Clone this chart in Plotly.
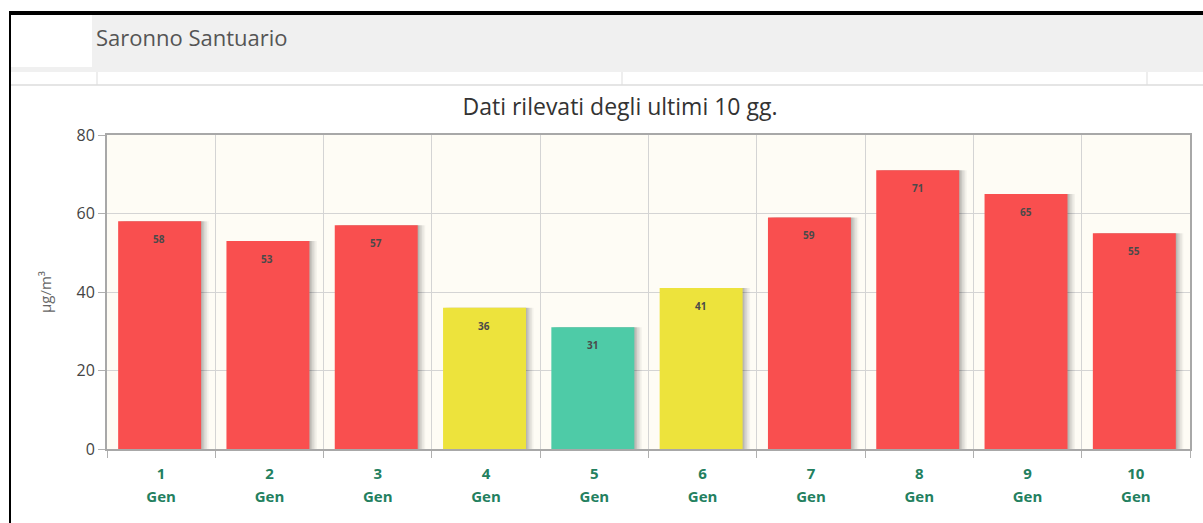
import plotly.graph_objects as go

# ---- data ----
days = ["1", "2", "3", "4", "5", "6", "7", "8", "9", "10"]
month_labels = ["Gen"] * 10
values = [58, 53, 57, 36, 31, 41, 59, 71, 65, 55]
bar_colors = ["#f94f4f", "#f94f4f", "#f94f4f", "#ede33c", "#4ecba7",
              "#ede33c", "#f94f4f", "#f94f4f", "#f94f4f", "#f94f4f"]
y_ticks = [0, 20, 40, 60, 80]

station = "Saronno Santuario"
chart_title = "Dati rilevati degli ultimi 10 gg."
y_title = "µg/m³"

FONT = "Open Sans"
W, H = 1203, 523
L, R, T, B = 107, 13, 135, 74

idx = list(range(len(days)))

fig = go.Figure()

# soft shadows (drawn from the same values)
for off, alpha in [(0.07, 0.04), (0.055, 0.05), (0.04, 0.06), (0.025, 0.08), (0.012, 0.08)]:
    fig.add_trace(go.Bar(
        x=days, y=values, width=0.766, offset=-0.397 + off,
        marker=dict(color=f"rgba(0,0,0,{alpha})", line=dict(width=0)),
        hoverinfo="skip", showlegend=False,
    ))

fig.add_trace(go.Bar(
    x=days, y=values, width=0.766, offset=-0.397,
    marker=dict(color=bar_colors, line=dict(width=0)),
    showlegend=False,
))

# invisible trace carrying the second (month) label axis
fig.add_trace(go.Scatter(
    x=idx, y=values, xaxis="x2", mode="markers",
    marker=dict(opacity=0), hoverinfo="skip", showlegend=False,
))

# value labels inside bars near the top (category index positions)
for i, v in zip(idx, values):
    fig.add_annotation(x=i, y=v, xref="x", yref="y", text=str(v), showarrow=False,
                       xshift=-2, yshift=-18, yanchor="middle",
                       font=dict(family=FONT, size=10, color="#4a4a4a", weight="bold"))

def px_x(x):
    return (x - L) / (W - L - R)

def px_y(y):
    return 1 + (T - y) / (H - T - B)

# header decoration
fig.add_shape(type="rect", xref="paper", yref="paper",
              x0=px_x(10), x1=px_x(W + 5), y0=px_y(72), y1=px_y(15),
              fillcolor="#f0f0f0", line=dict(width=0), layer="below")
fig.add_shape(type="rect", xref="paper", yref="paper",
              x0=px_x(10), x1=px_x(92), y0=px_y(67), y1=px_y(15),
              fillcolor="#ffffff", line=dict(width=0), layer="below")
for xx in [97, 622, 1147]:
    fig.add_shape(type="line", xref="paper", yref="paper",
                  x0=px_x(xx), x1=px_x(xx), y0=px_y(72), y1=px_y(85),
                  line=dict(color="#dddddd", width=1), layer="below")
fig.add_shape(type="line", xref="paper", yref="paper",
              x0=px_x(10), x1=px_x(W + 5), y0=px_y(85), y1=px_y(85),
              line=dict(color="#dddddd", width=1.5), layer="below")
# black frame (top and left)
fig.add_shape(type="rect", xref="paper", yref="paper",
              x0=px_x(9), x1=px_x(W + 5), y0=px_y(15), y1=px_y(11),
              fillcolor="#000000", line=dict(width=0), layer="below")
fig.add_shape(type="rect", xref="paper", yref="paper",
              x0=px_x(9), x1=px_x(11), y0=px_y(H + 5), y1=px_y(11),
              fillcolor="#000000", line=dict(width=0), layer="below")

fig.add_annotation(
    text=station, xref="paper", yref="paper",
    x=px_x(94), y=px_y(37), xanchor="left", yanchor="middle",
    showarrow=False, font=dict(family=FONT, size=22, color="#555555"),
)

fig.update_layout(
    width=W, height=H,
    margin=dict(l=L, r=R, t=T, b=B),
    paper_bgcolor="#ffffff",
    plot_bgcolor="#fefcf5",
    barmode="overlay",
    font=dict(family=FONT, color="#555555"),
    title=dict(text=chart_title, xref="container", yref="container",
               x=620 / W, y=1 - 107 / H, xanchor="center", yanchor="middle",
               font=dict(family=FONT, size=23, color="#333333")),
    xaxis=dict(
        type="category", tickson="boundaries",
        range=[-0.5, len(days) - 0.5],
        showgrid=True, gridcolor="#d4d4d4", gridwidth=1,
        ticks="outside", ticklen=7, tickcolor="#b0b0b0", tickwidth=1,
        showline=True, linecolor="#a8a8a8", linewidth=2, mirror=True,
        tickfont=dict(family=FONT, size=15, color="#23805f", weight="bold"),
        ticklabelstandoff=10,
        zeroline=False, fixedrange=True,
    ),
    xaxis2=dict(
        overlaying="x", anchor="y", side="bottom",
        range=[-0.5, len(days) - 0.5],
        tickmode="array", tickvals=idx, ticktext=month_labels,
        showgrid=False, showline=False, ticks="", zeroline=False,
        tickfont=dict(family=FONT, size=15, color="#23805f", weight="bold"),
        ticklabelstandoff=37, fixedrange=True,
    ),
    yaxis=dict(
        range=[0, 80], tickvals=y_ticks,
        showgrid=True, gridcolor="#d4d4d4", gridwidth=1,
        ticks="outside", ticklen=7, tickcolor="#b0b0b0",
        showline=True, linecolor="#a8a8a8", linewidth=2, mirror=True,
        tickfont=dict(family=FONT, size=16, color="#444444"),
        title=dict(text=y_title, font=dict(family=FONT, size=15, color="#666666"),
                   standoff=21),
        zeroline=False, fixedrange=True,
    ),
)

fig.write_html("out.html", config={"displayModeBar": False},
               post_script="document.body.style.margin='0';")
